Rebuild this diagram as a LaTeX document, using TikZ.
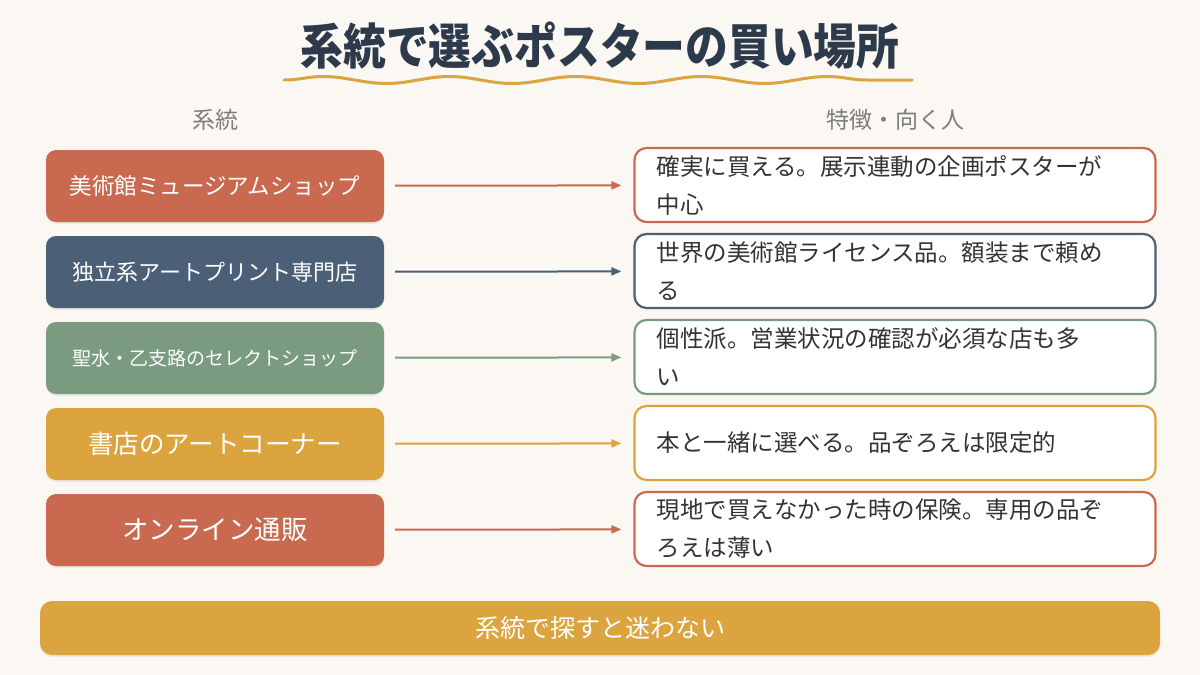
\documentclass[tikz,border=0pt]{standalone}
\usepackage{fontspec}
\setmainfont{Noto Sans CJK JP}
\usetikzlibrary{arrows.meta, positioning, shadows, decorations.pathmorphing}

\definecolor{bgcream}{HTML}{FBF7F2}
\definecolor{titleink}{HTML}{2C3A4B}
\definecolor{headgray}{HTML}{7D7D7D}
\definecolor{noteink}{HTML}{333333}
\definecolor{rowred}{HTML}{C96A50}
\definecolor{rownavy}{HTML}{4B5F77}
\definecolor{rowgreen}{HTML}{7A9B80}
\definecolor{rowgold}{HTML}{DBA43F}

\newcommand{\fsz}[1]{\fontsize{#1}{1.3\dimexpr#1pt\relax}\selectfont}

\begin{document}
\begin{tikzpicture}[x=1pt, y=-1pt,
    every node/.style = {align=center, inner sep=0pt},
    kind/.style = {shape=rectangle, rounded corners=10pt,
        minimum width=338pt, minimum height=72pt, text=white,
        drop shadow={opacity=0.12, shadow xshift=0pt, shadow yshift=-2pt}},
    trait/.style = {shape=rectangle, rounded corners=12pt, draw,
        line width=2.2pt, fill=white, minimum width=521pt,
        minimum height=74pt, text width=477pt, align=left,
        text=noteink, font=\fontsize{23.5}{38}\selectfont},
    link/.style = {-{Triangle[length=10pt, width=8pt]}, line width=2pt,
        shorten <=11pt, shorten >=12pt},
    head/.style = {text=headgray, font=\fsz{23}}]

    \fill[bgcream] (0,0) rectangle (1200,675);
    \useasboundingbox (0,0) rectangle (1200,675);

    % title
    \node[text=titleink, font=\bfseries\fsz{46}] (title) at (600,46)
        {\scalebox{0.93}[1.06]{系統で選ぶポスターの買い場所}};
    \draw[rowgold, line width=3pt, line cap=round, decorate,
        decoration={snake, segment length=126pt, amplitude=3.5pt}]
        (284,80) -- (912,80);

    % column heads
    \node[head] (lefthead) at (215,120) {系統};
    \node[head] (righthead) at (895,120) {特徴・向く人};

    % rows
    \node[kind, fill=rowred, font=\fsz{22.5}] (museum) at (215,186)
        {美術館ミュージアムショップ};
    \node[kind, fill=rownavy, font=\fsz{22}] (printshop) at (215,272)
        {独立系アートプリント専門店};
    \node[kind, fill=rowgreen, font=\fsz{19}] (select) at (215,358)
        {聖水・乙支路のセレクトショップ};
    \node[kind, fill=rowgold, font=\fsz{25.5}] (bookstore) at (215,444)
        {書店のアートコーナー};
    \node[kind, fill=rowred, font=\fsz{26.5}] (online) at (215,530)
        {オンライン通販};

    \node[trait, draw=rowred] (museumnote) at (895,185)
        {確実に買える。展示連動の企画ポスターが\\中心};
    \node[trait, draw=rownavy] (printnote) at (895,271)
        {世界の美術館ライセンス品。額装まで頼め\\る};
    \node[trait, draw=rowgreen] (selectnote) at (895,357)
        {個性派。営業状況の確認が必須な店も多\\い};
    \node[trait, draw=rowgold] (booknote) at (895,443)
        {本と一緒に選べる。品ぞろえは限定的};
    \node[trait, draw=rowred] (onlinenote) at (895,529)
        {現地で買えなかった時の保険。専用の品ぞ\\ろえは薄い};

    \draw[link, rowred] (museum) -- (museumnote);
    \draw[link, rownavy] (printshop) -- (printnote);
    \draw[link, rowgreen] (select) -- (selectnote);
    \draw[link, rowgold] (bookstore) -- (booknote);
    \draw[link, rowred] (online) -- (onlinenote);

    % footer
    \node[shape=rectangle, rounded corners=12pt, fill=rowgold,
        minimum width=1120pt, minimum height=54pt, text=white,
        font=\fsz{25}, drop shadow={opacity=0.12, shadow xshift=0pt,
        shadow yshift=-2pt}] (footer) at (600,628) {系統で探すと迷わない};
\end{tikzpicture}
\end{document}
